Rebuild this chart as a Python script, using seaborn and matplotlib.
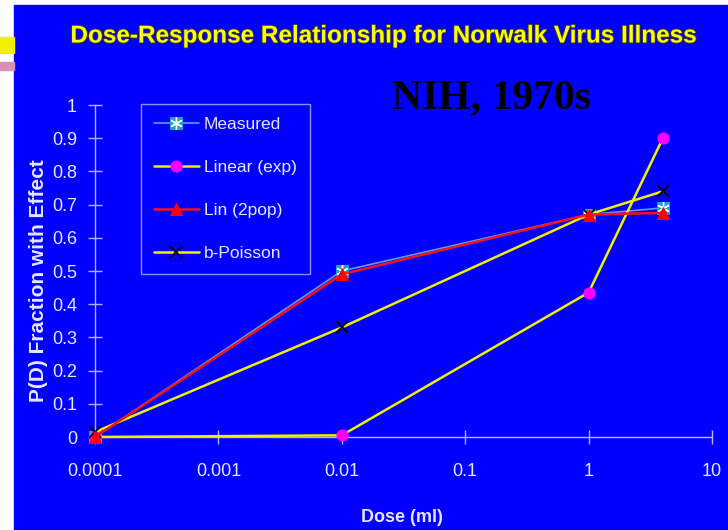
import numpy as np
import pandas as pd
import matplotlib
matplotlib.use("Agg")
import matplotlib.pyplot as plt
import matplotlib.patheffects as pe
from matplotlib.patches import Rectangle
import seaborn as sns

sns.set_style("white")
plt.rcParams['font.family'] = ['Liberation Sans', 'DejaVu Sans']

# dose in ml and fraction ill
dose = [0.0001, 0.01, 1, 4]
measured = [0.0, 0.50, 0.67, 0.69]
linear_exp = [0.0, 0.005, 0.435, 0.90]
lin_2pop = [0.0, 0.49, 0.67, 0.675]
b_poisson = [0.015, 0.33, 0.67, 0.74]

x_ticks = [0.0001, 0.001, 0.01, 0.1, 1, 10]
x_ticklabels = ["0.0001", "0.001", "0.01", "0.1", "1", "10"]
y_ticks = np.round(np.arange(0, 1.01, 0.1), 1)
y_ticklabels = ["0", "0.1", "0.2", "0.3", "0.4", "0.5", "0.6", "0.7", "0.8", "0.9", "1"]

blue = "#0000ff"
txt = "#e6e6ff"
axcol = "#b4b4ff"

fig = plt.figure(figsize=(7.28, 5.30), dpi=100, facecolor="white")
# slide background
fig.patches.append(Rectangle((14 / 728, 0), 1, 1 - 5 / 530, transform=fig.transFigure,
                             color=blue, zorder=-10))
fig.patches.append(Rectangle((0, 1 - 53 / 530), 14 / 728, 16 / 530, transform=fig.transFigure,
                             color="#f0f000", zorder=-10))
fig.patches.append(Rectangle((0, 1 - 70 / 530), 14 / 728, 8 / 530, transform=fig.transFigure,
                             color="#d890b8", zorder=-10))

ax = fig.add_axes([95 / 728, 1 - 437 / 530, 617 / 728, 332 / 530])
ax.set_facecolor(blue)

df = pd.DataFrame({"dose": dose, "measured": measured, "linear_exp": linear_exp,
                   "lin_2pop": lin_2pop, "b_poisson": b_poisson})

sns.lineplot(data=df, x="dose", y="linear_exp", ax=ax, color="#f0f000", lw=1.8,
             marker="o", markersize=8, markerfacecolor="#ff00ff", markeredgecolor="#ff00ff",
             clip_on=False, zorder=3)
sns.lineplot(data=df, x="dose", y="b_poisson", ax=ax, color="#f0f000", lw=1.8,
             marker="x", markersize=9, markeredgecolor="black", markeredgewidth=1.3,
             clip_on=False, zorder=3)
sns.lineplot(data=df, x="dose", y="lin_2pop", ax=ax, color="#ff1010", lw=1.8,
             marker="^", markersize=9, markerfacecolor="#ff0000", markeredgecolor="#ff0000",
             clip_on=False, zorder=4)
sns.lineplot(data=df, x="dose", y="measured", ax=ax, color="#5aa0ff", lw=1.2,
             marker="s", markersize=8, markerfacecolor="#1ea0c8", markeredgecolor="#1ea0c8",
             clip_on=False, zorder=2)
sns.lineplot(data=df, x="dose", y="measured", ax=ax, lw=0,
             marker=(6, 2, 0), markersize=9, markeredgecolor="white", markeredgewidth=1.0,
             clip_on=False, zorder=2)

lines = ax.get_lines()
h_lin, h_bp, h_2p, h_meas, h_star = lines[:5]
ax.legend([(h_meas, h_star), h_lin, h_2p, h_bp],
          ["Measured", "Linear (exp)", "Lin (2pop)", "b-Poisson"],
          loc="upper left", bbox_to_anchor=(0.074, 1.003), borderaxespad=0,
          frameon=True, fancybox=False, facecolor=blue, edgecolor=axcol,
          labelcolor=txt, fontsize=12.5, handlelength=2.6, labelspacing=1.6,
          borderpad=0.75, handletextpad=0.3)

ax.set_xscale("log")
ax.set_xlim(0.0001, 10)
ax.set_ylim(0, 1)
ax.set_xticks(x_ticks)
ax.set_xticklabels(x_ticklabels)
ax.set_yticks(y_ticks)
ax.set_yticklabels(y_ticklabels)
ax.minorticks_off()
ax.tick_params(axis="both", colors=axcol, labelcolor=txt, labelsize=13,
               direction="inout", length=10, width=1, left=True, bottom=True)
ax.tick_params(axis="x", pad=14)
ax.tick_params(axis="y", pad=8)
for s in ["top", "right"]:
    ax.spines[s].set_visible(False)
for s in ["left", "bottom"]:
    ax.spines[s].set_color(axcol)
    ax.spines[s].set_linewidth(1)

ax.set_xlabel("Dose (ml)", color=txt, fontsize=13, fontweight="bold", va="center")
ax.set_ylabel("P(D) Fraction with Effect", color=txt, fontsize=15, fontweight="bold",
              va="center")
ax.xaxis.set_label_coords((402 - 95) / 617, (437 - 517) / 332)
ax.yaxis.set_label_coords((39 - 95) / 617, (437 - 281) / 332)

fig.text(384 / 728, 1 - 36 / 530, "Dose-Response Relationship for Norwalk Virus Illness",
         ha="center", va="center", color="#ffff00", fontsize=17.5, fontweight="bold",
         path_effects=[pe.withStroke(linewidth=1.2, foreground="#404000")])
fig.text(491 / 728, 1 - 98 / 530, "NIH, 1970s", ha="center", va="center",
         family="Liberation Serif", fontweight="bold", fontsize=30, color="black")

fig.savefig("out.png", dpi=100, facecolor=fig.get_facecolor())
